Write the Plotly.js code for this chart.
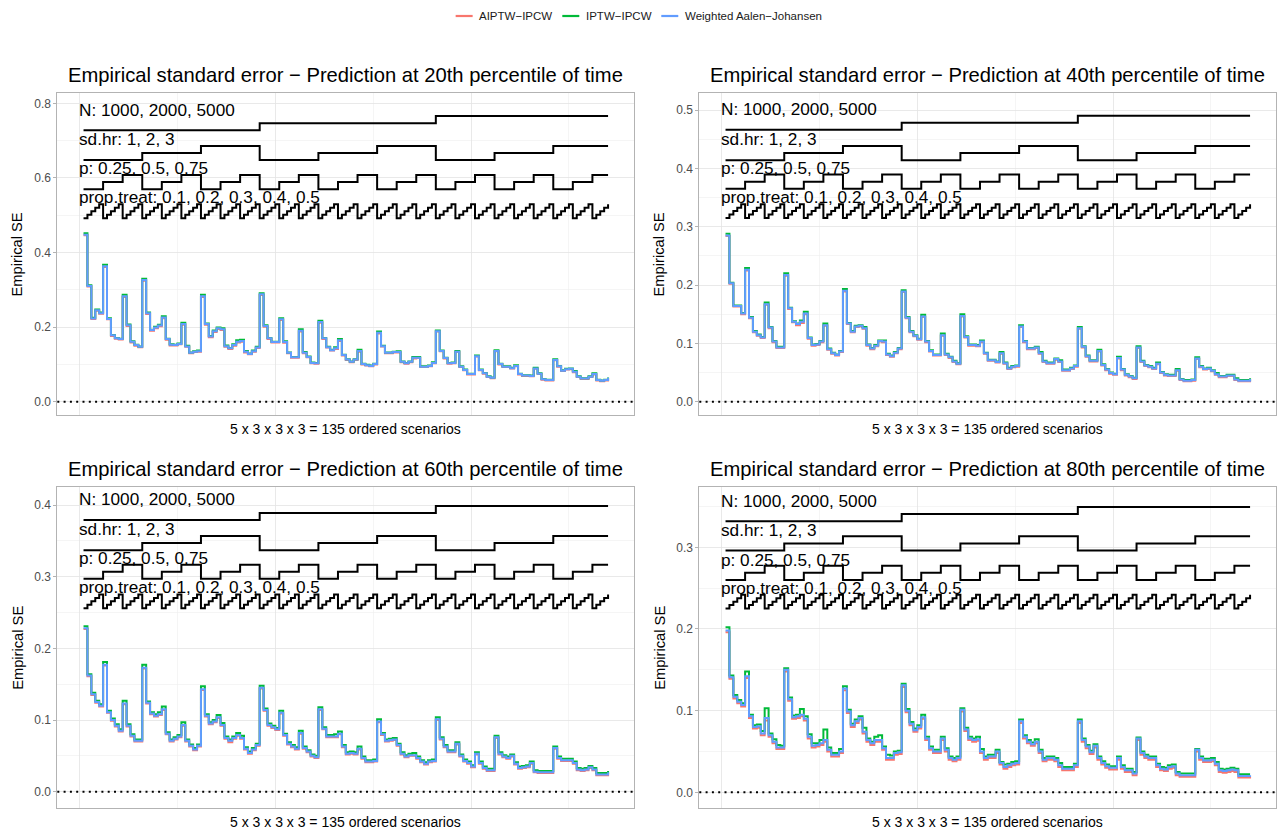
<!DOCTYPE html>
<html><head><meta charset="utf-8">
<script src="https://cdn.plot.ly/plotly-3.0.1.min.js"></script>
<style>html,body{margin:0;padding:0;background:#fff;}#chart{width:1277px;height:831px;}</style>
</head><body><div id="chart"></div>
<script>
// ---- design factors (nested loop) ----
const N_levels = [1000, 2000, 5000];
const sdhr_levels = [1, 2, 3];
const p_levels = [0.25, 0.5, 0.75];
const prop_levels = [0.1, 0.2, 0.3, 0.4, 0.5];
const percentiles = [20, 40, 60, 80];
const methods = ['AIPTW\u2212IPCW', 'IPTW\u2212IPCW', 'Weighted Aalen\u2212Johansen'];

// ---- empirical SE, 20th percentile ----
const p20_aiptw = [0.446,0.309,0.222,0.244,0.236, 0.361,0.221,0.176,0.169,0.167, 0.281,0.203,0.159,0.150,0.146, 0.324,0.235,0.190,0.197,0.202, 0.224,0.166,0.151,0.151,0.154, 0.206,0.147,0.130,0.133,0.134, 0.281,0.206,0.173,0.187,0.195, 0.192,0.147,0.141,0.150,0.159, 0.161,0.132,0.127,0.134,0.144,
 0.286,0.201,0.168,0.159,0.159, 0.219,0.158,0.130,0.118,0.118, 0.188,0.130,0.119,0.103,0.102, 0.212,0.168,0.145,0.137,0.141, 0.163,0.124,0.112,0.106,0.112, 0.134,0.100,0.097,0.095,0.100, 0.183,0.148,0.130,0.130,0.132, 0.132,0.106,0.102,0.106,0.116, 0.117,0.093,0.093,0.095,0.103,
 0.188,0.135,0.116,0.102,0.103, 0.133,0.093,0.084,0.073,0.073, 0.121,0.084,0.075,0.066,0.063, 0.135,0.100,0.093,0.093,0.089, 0.095,0.073,0.069,0.069,0.068, 0.088,0.074,0.059,0.057,0.057, 0.111,0.094,0.082,0.086,0.087, 0.079,0.066,0.061,0.061,0.066, 0.073,0.057,0.055,0.057,0.063];
const p20_iptw = [0.452,0.312,0.225,0.247,0.239, 0.367,0.224,0.179,0.171,0.169, 0.287,0.207,0.162,0.153,0.148, 0.330,0.239,0.193,0.201,0.206, 0.229,0.169,0.154,0.153,0.156, 0.212,0.150,0.132,0.135,0.137, 0.287,0.210,0.176,0.191,0.199, 0.197,0.151,0.144,0.154,0.165, 0.166,0.136,0.129,0.137,0.147,
 0.291,0.205,0.171,0.161,0.161, 0.224,0.162,0.132,0.120,0.120, 0.194,0.133,0.121,0.105,0.104, 0.217,0.171,0.147,0.139,0.146, 0.168,0.126,0.114,0.108,0.114, 0.139,0.102,0.099,0.097,0.102, 0.188,0.150,0.132,0.132,0.134, 0.135,0.108,0.104,0.108,0.120, 0.120,0.095,0.095,0.097,0.106,
 0.191,0.137,0.118,0.104,0.105, 0.136,0.095,0.086,0.075,0.075, 0.124,0.086,0.077,0.068,0.065, 0.138,0.102,0.095,0.095,0.091, 0.098,0.075,0.071,0.071,0.070, 0.091,0.076,0.061,0.059,0.059, 0.114,0.096,0.084,0.088,0.089, 0.082,0.068,0.063,0.063,0.068, 0.076,0.059,0.057,0.059,0.065];
const p20_waj = [0.448,0.310,0.223,0.245,0.237, 0.363,0.222,0.178,0.170,0.168, 0.283,0.205,0.161,0.152,0.147, 0.326,0.237,0.192,0.199,0.204, 0.226,0.168,0.153,0.152,0.155, 0.208,0.148,0.131,0.134,0.135, 0.283,0.208,0.175,0.189,0.197, 0.194,0.149,0.143,0.152,0.161, 0.163,0.134,0.128,0.135,0.145,
 0.288,0.203,0.170,0.160,0.160, 0.221,0.160,0.131,0.119,0.119, 0.190,0.131,0.120,0.104,0.103, 0.214,0.170,0.146,0.138,0.143, 0.165,0.125,0.113,0.107,0.113, 0.136,0.101,0.098,0.096,0.101, 0.185,0.149,0.131,0.131,0.133, 0.133,0.107,0.103,0.107,0.118, 0.118,0.094,0.094,0.096,0.104,
 0.189,0.136,0.117,0.103,0.104, 0.134,0.094,0.085,0.074,0.074, 0.122,0.085,0.076,0.067,0.064, 0.136,0.101,0.094,0.094,0.090, 0.096,0.074,0.070,0.070,0.069, 0.089,0.075,0.060,0.058,0.058, 0.112,0.095,0.083,0.087,0.088, 0.080,0.067,0.062,0.062,0.067, 0.074,0.058,0.056,0.058,0.064];

// ---- 40th percentile ----
const p40_aiptw = [0.284,0.202,0.163,0.163,0.150, 0.225,0.143,0.119,0.113,0.109, 0.166,0.126,0.102,0.092,0.092, 0.216,0.159,0.136,0.131,0.135, 0.150,0.108,0.096,0.097,0.102, 0.130,0.089,0.082,0.079,0.085, 0.189,0.133,0.119,0.128,0.129, 0.125,0.096,0.090,0.095,0.103, 0.102,0.080,0.077,0.083,0.090,
 0.188,0.143,0.119,0.112,0.106, 0.145,0.102,0.086,0.079,0.079, 0.113,0.080,0.075,0.068,0.064, 0.146,0.110,0.096,0.096,0.095, 0.102,0.082,0.070,0.070,0.067, 0.082,0.065,0.056,0.059,0.060, 0.128,0.102,0.090,0.090,0.092, 0.082,0.068,0.065,0.065,0.072, 0.068,0.053,0.053,0.056,0.060,
 0.125,0.093,0.077,0.069,0.069, 0.086,0.062,0.054,0.048,0.046, 0.074,0.054,0.045,0.042,0.039, 0.092,0.068,0.061,0.059,0.056, 0.064,0.049,0.045,0.044,0.044, 0.053,0.037,0.035,0.035,0.036, 0.073,0.059,0.055,0.056,0.052, 0.046,0.042,0.042,0.044,0.044, 0.037,0.035,0.035,0.035,0.038];
const p40_iptw = [0.288,0.204,0.165,0.165,0.152, 0.229,0.145,0.121,0.115,0.111, 0.170,0.128,0.104,0.094,0.094, 0.220,0.161,0.138,0.134,0.139, 0.154,0.110,0.098,0.099,0.104, 0.134,0.091,0.084,0.081,0.087, 0.193,0.135,0.121,0.130,0.131, 0.128,0.098,0.092,0.097,0.105, 0.105,0.082,0.079,0.085,0.092,
 0.191,0.145,0.121,0.114,0.108, 0.149,0.104,0.088,0.081,0.081, 0.117,0.082,0.077,0.070,0.066, 0.150,0.112,0.098,0.098,0.097, 0.105,0.084,0.072,0.072,0.069, 0.085,0.067,0.058,0.061,0.062, 0.131,0.104,0.092,0.092,0.094, 0.085,0.070,0.067,0.067,0.074, 0.071,0.055,0.055,0.058,0.062,
 0.128,0.095,0.079,0.071,0.071, 0.089,0.064,0.056,0.050,0.048, 0.077,0.056,0.047,0.044,0.041, 0.095,0.070,0.063,0.061,0.058, 0.067,0.051,0.047,0.046,0.046, 0.056,0.039,0.037,0.037,0.038, 0.076,0.061,0.057,0.058,0.054, 0.049,0.044,0.044,0.046,0.046, 0.040,0.037,0.037,0.037,0.040];
const p40_waj = [0.285,0.203,0.164,0.164,0.151, 0.226,0.144,0.120,0.114,0.110, 0.167,0.127,0.103,0.093,0.093, 0.217,0.160,0.137,0.133,0.137, 0.151,0.109,0.097,0.098,0.103, 0.131,0.090,0.083,0.080,0.086, 0.190,0.134,0.120,0.129,0.130, 0.126,0.097,0.091,0.096,0.104, 0.103,0.081,0.078,0.084,0.091,
 0.189,0.144,0.120,0.113,0.107, 0.146,0.103,0.087,0.080,0.080, 0.114,0.081,0.076,0.069,0.065, 0.147,0.111,0.097,0.097,0.096, 0.103,0.083,0.071,0.071,0.068, 0.083,0.066,0.057,0.060,0.061, 0.129,0.103,0.091,0.091,0.093, 0.083,0.069,0.066,0.066,0.073, 0.069,0.054,0.054,0.057,0.061,
 0.126,0.094,0.078,0.070,0.070, 0.087,0.063,0.055,0.049,0.047, 0.075,0.055,0.046,0.043,0.040, 0.093,0.069,0.062,0.060,0.057, 0.065,0.050,0.046,0.045,0.045, 0.054,0.038,0.036,0.036,0.037, 0.074,0.060,0.056,0.057,0.053, 0.047,0.043,0.043,0.045,0.045, 0.038,0.036,0.036,0.036,0.039];

// ---- 60th percentile ----
const p60_aiptw = [0.227,0.161,0.135,0.124,0.119, 0.176,0.110,0.099,0.091,0.084, 0.122,0.091,0.077,0.070,0.070, 0.172,0.123,0.108,0.105,0.107, 0.114,0.080,0.070,0.073,0.076, 0.092,0.070,0.063,0.058,0.063, 0.142,0.105,0.094,0.097,0.103, 0.092,0.074,0.069,0.074,0.078, 0.074,0.059,0.053,0.058,0.064,
 0.144,0.113,0.092,0.089,0.086, 0.109,0.078,0.066,0.062,0.059, 0.081,0.060,0.055,0.049,0.047, 0.114,0.087,0.076,0.076,0.076, 0.080,0.062,0.052,0.053,0.052, 0.059,0.046,0.041,0.041,0.042, 0.097,0.079,0.070,0.071,0.072, 0.064,0.052,0.048,0.050,0.050, 0.046,0.041,0.038,0.041,0.042,
 0.100,0.073,0.062,0.055,0.055, 0.066,0.049,0.042,0.039,0.034, 0.052,0.039,0.032,0.029,0.029, 0.075,0.052,0.048,0.046,0.049, 0.038,0.032,0.033,0.034,0.039, 0.027,0.026,0.026,0.026,0.026, 0.060,0.046,0.043,0.043,0.043, 0.039,0.030,0.029,0.030,0.033, 0.030,0.023,0.023,0.023,0.026];
const p60_iptw = [0.231,0.164,0.138,0.127,0.122, 0.181,0.113,0.102,0.094,0.087, 0.127,0.094,0.080,0.073,0.073, 0.177,0.126,0.111,0.108,0.111, 0.119,0.083,0.073,0.076,0.079, 0.097,0.073,0.066,0.061,0.066, 0.147,0.108,0.097,0.100,0.107, 0.096,0.077,0.073,0.077,0.082, 0.078,0.062,0.056,0.061,0.067,
 0.148,0.116,0.095,0.092,0.089, 0.113,0.081,0.069,0.065,0.062, 0.085,0.063,0.058,0.052,0.050, 0.118,0.090,0.079,0.079,0.080, 0.084,0.065,0.055,0.056,0.055, 0.063,0.049,0.044,0.044,0.045, 0.101,0.082,0.073,0.074,0.075, 0.067,0.055,0.051,0.053,0.054, 0.049,0.044,0.041,0.044,0.045,
 0.104,0.076,0.065,0.058,0.058, 0.069,0.052,0.045,0.042,0.037, 0.055,0.042,0.035,0.032,0.032, 0.078,0.055,0.051,0.049,0.052, 0.041,0.035,0.036,0.037,0.042, 0.030,0.029,0.029,0.029,0.029, 0.063,0.049,0.046,0.046,0.046, 0.042,0.033,0.032,0.033,0.036, 0.033,0.026,0.026,0.026,0.029];
const p60_waj = [0.228,0.162,0.136,0.125,0.120, 0.177,0.111,0.100,0.092,0.085, 0.123,0.092,0.078,0.071,0.071, 0.173,0.124,0.109,0.106,0.108, 0.115,0.081,0.071,0.074,0.077, 0.093,0.071,0.064,0.059,0.064, 0.143,0.106,0.095,0.098,0.104, 0.093,0.075,0.071,0.075,0.079, 0.075,0.060,0.054,0.059,0.065,
 0.145,0.114,0.093,0.090,0.087, 0.110,0.079,0.067,0.063,0.060, 0.082,0.061,0.056,0.050,0.048, 0.115,0.088,0.077,0.077,0.077, 0.081,0.063,0.053,0.054,0.053, 0.060,0.047,0.042,0.042,0.043, 0.098,0.080,0.071,0.072,0.073, 0.065,0.053,0.049,0.051,0.051, 0.047,0.042,0.039,0.042,0.043,
 0.101,0.074,0.063,0.056,0.056, 0.067,0.050,0.043,0.040,0.035, 0.053,0.040,0.033,0.030,0.030, 0.076,0.053,0.049,0.047,0.050, 0.039,0.033,0.034,0.035,0.040, 0.028,0.027,0.027,0.027,0.027, 0.061,0.047,0.044,0.044,0.044, 0.040,0.031,0.030,0.031,0.034, 0.031,0.024,0.024,0.024,0.027];

// ---- 80th percentile ----
const p80_aiptw = [0.196,0.139,0.115,0.109,0.105, 0.140,0.091,0.078,0.079,0.070, 0.088,0.068,0.060,0.053,0.053, 0.148,0.112,0.090,0.091,0.093, 0.088,0.066,0.055,0.056,0.058, 0.062,0.050,0.044,0.044,0.048, 0.125,0.097,0.080,0.085,0.089, 0.072,0.062,0.058,0.062,0.062, 0.052,0.040,0.040,0.046,0.047,
 0.129,0.098,0.082,0.074,0.078, 0.090,0.064,0.052,0.048,0.048, 0.064,0.050,0.040,0.038,0.040, 0.099,0.075,0.064,0.062,0.063, 0.048,0.040,0.042,0.042,0.048, 0.034,0.029,0.031,0.033,0.034, 0.085,0.066,0.060,0.057,0.060, 0.048,0.038,0.040,0.040,0.038, 0.031,0.027,0.027,0.027,0.031,
 0.085,0.062,0.054,0.047,0.055, 0.040,0.034,0.030,0.028,0.028, 0.040,0.029,0.025,0.025,0.021, 0.064,0.046,0.042,0.040,0.040, 0.031,0.027,0.026,0.029,0.030, 0.021,0.019,0.019,0.019,0.019, 0.050,0.040,0.037,0.037,0.038, 0.033,0.025,0.024,0.025,0.026, 0.025,0.018,0.018,0.018,0.019];
const p80_iptw = [0.202,0.143,0.119,0.113,0.109, 0.148,0.095,0.082,0.083,0.075, 0.103,0.072,0.065,0.058,0.057, 0.152,0.116,0.094,0.095,0.102, 0.093,0.071,0.060,0.060,0.064, 0.077,0.055,0.048,0.048,0.053, 0.130,0.101,0.084,0.089,0.093, 0.079,0.066,0.062,0.068,0.070, 0.056,0.046,0.045,0.050,0.051,
 0.133,0.102,0.086,0.078,0.082, 0.095,0.068,0.056,0.052,0.052, 0.068,0.054,0.044,0.042,0.044, 0.103,0.079,0.068,0.066,0.068, 0.053,0.044,0.046,0.046,0.052, 0.037,0.034,0.035,0.037,0.038, 0.089,0.070,0.064,0.061,0.065, 0.052,0.042,0.044,0.044,0.042, 0.036,0.031,0.031,0.031,0.035,
 0.089,0.066,0.058,0.051,0.059, 0.044,0.038,0.034,0.032,0.032, 0.044,0.033,0.029,0.029,0.025, 0.067,0.050,0.046,0.044,0.044, 0.035,0.031,0.030,0.033,0.034, 0.025,0.023,0.023,0.023,0.023, 0.053,0.044,0.041,0.041,0.042, 0.037,0.029,0.028,0.029,0.030, 0.029,0.022,0.022,0.022,0.022];
const p80_waj = [0.198,0.141,0.117,0.111,0.107, 0.142,0.093,0.080,0.081,0.072, 0.091,0.070,0.062,0.055,0.055, 0.150,0.114,0.092,0.093,0.095, 0.090,0.068,0.057,0.058,0.060, 0.064,0.052,0.046,0.046,0.050, 0.127,0.099,0.082,0.087,0.091, 0.074,0.064,0.060,0.064,0.064, 0.054,0.042,0.042,0.048,0.049,
 0.131,0.100,0.084,0.076,0.080, 0.092,0.066,0.054,0.050,0.050, 0.066,0.052,0.042,0.040,0.042, 0.101,0.077,0.066,0.064,0.065, 0.050,0.042,0.044,0.044,0.050, 0.036,0.031,0.033,0.035,0.036, 0.087,0.068,0.062,0.059,0.062, 0.050,0.040,0.042,0.042,0.040, 0.033,0.029,0.029,0.029,0.033,
 0.087,0.064,0.056,0.049,0.057, 0.042,0.036,0.032,0.030,0.030, 0.042,0.031,0.027,0.027,0.023, 0.066,0.048,0.044,0.042,0.042, 0.033,0.029,0.028,0.031,0.032, 0.023,0.021,0.021,0.021,0.021, 0.052,0.042,0.039,0.039,0.040, 0.035,0.027,0.026,0.027,0.028, 0.027,0.020,0.020,0.020,0.021];

// ---- layout / style settings (not data) ----
const COLORS = ['#F8766D', '#00BA38', '#619CFF'];
const FONT = 'Liberation Sans, Arial, Helvetica, sans-serif';
const W = 1277, H = 831;
const BOX = [[57.3, 634.3, 93.3, 415.0], [699.3, 1276.3, 93.3, 415.0], [57.3, 634.3, 486.7, 808.4], [699.3, 1276.3, 486.7, 808.4]];
const YRANGE = [[-0.0357, 0.827], [-0.0228, 0.5287], [-0.0233, 0.4256], [-0.0197, 0.3742]];
const YDTICK = [0.2, 0.1, 0.1, 0.1];
const LOOP_BASE = [[0.728, 0.648, 0.570, 0.492], [0.466, 0.414, 0.365, 0.315], [0.379, 0.337, 0.297, 0.256], [0.332, 0.296, 0.260, 0.225]];
const LOOP_STEP = [[0.019, 0.019, 0.019, 0.0093], [0.0122, 0.0122, 0.0122, 0.0059], [0.0099, 0.0099, 0.0099, 0.0048], [0.0087, 0.0087, 0.0087, 0.0042]];
const LOOP_LABEL = [[0.783, 0.704, 0.626, 0.548], [0.501, 0.451, 0.401, 0.351], [0.408, 0.367, 0.326, 0.285], [0.357, 0.321, 0.285, 0.250]];
const LEG = {cx: 638.5, cy: 16, key: 17, keyGap: 5.5, itemGap: 11, size: 11.5};

const series = [[p20_aiptw, p20_iptw, p20_waj], [p40_aiptw, p40_iptw, p40_waj], [p60_aiptw, p60_iptw, p60_waj], [p80_aiptw, p80_iptw, p80_waj]];

const scen = [];
N_levels.forEach((n, a) => sdhr_levels.forEach((s, b) => p_levels.forEach((pp, c) => prop_levels.forEach((q, d) => scen.push([a, b, c, d])))));
const xs = scen.map((_, i) => i + 1);
const loopLabels = ['N: ' + N_levels.join(', '), 'sd.hr: ' + sdhr_levels.join(', '), 'p: ' + p_levels.join(', '), 'prop.treat: ' + prop_levels.join(', ')];
const nOrdered = `${prop_levels.length} x ${p_levels.length} x ${sdhr_levels.length} x ${N_levels.length} = ${scen.length} ordered scenarios`;

const traces = [], annotations = [], shapes = [];
const layout = {
  width: W, height: H, margin: {l: 0, r: 0, t: 0, b: 0},
  paper_bgcolor: '#ffffff', plot_bgcolor: '#ffffff',
  font: {family: FONT, color: '#000000'},
  showlegend: false
};
const px2x = px => px / W, px2y = py => 1 - py / H;

for (let k = 0; k < 4; k++) {
  const sfx = k === 0 ? '' : String(k + 1);
  const xa = 'x' + sfx, ya = 'y' + sfx;
  const [L, R, T, B] = BOX[k];
  layout['xaxis' + sfx] = {
    domain: [px2x(L), px2x(R)], anchor: ya, range: [-5.7, 141.7],
    showticklabels: false, ticks: '', tick0: 0, dtick: 50,
    showgrid: true, gridcolor: '#e4e4e4', gridwidth: 0.8,
    minor: {tick0: 0, dtick: 25, showgrid: true, gridcolor: '#efefef', gridwidth: 0.6, ticks: ''},
    showline: true, mirror: true, linecolor: '#b3b3b3', linewidth: 1, zeroline: false, fixedrange: true
  };
  layout['yaxis' + sfx] = {
    domain: [px2y(B), px2y(T)], anchor: xa, range: YRANGE[k],
    tick0: 0, dtick: YDTICK[k], tickformat: '.1f', ticks: 'outside', ticklen: 3, tickcolor: '#b3b3b3', tickwidth: 1,
    tickfont: {size: 12, color: '#4d4d4d', family: FONT},
    showgrid: true, gridcolor: '#e4e4e4', gridwidth: 0.8,
    minor: {tick0: 0, dtick: YDTICK[k] / 2, showgrid: true, gridcolor: '#efefef', gridwidth: 0.6, ticks: ''},
    showline: true, mirror: true, linecolor: '#b3b3b3', linewidth: 1, zeroline: false, fixedrange: true
  };

  for (let j = 0; j < 4; j++) {
    traces.push({
      type: 'scatter', mode: 'lines', xaxis: xa, yaxis: ya, x: xs,
      y: scen.map(s => LOOP_BASE[k][j] + s[j] * LOOP_STEP[k][j]),
      line: {shape: 'hv', color: '#000000', width: 2}, showlegend: false, hoverinfo: 'skip'
    });
    annotations.push({xref: xa, yref: ya, x: -0.6, y: LOOP_LABEL[k][j], text: loopLabels[j], showarrow: false,
      xanchor: 'left', yanchor: 'middle', font: {size: 17.2, color: '#000000', family: FONT}});
  }
  for (let m = 0; m < 3; m++) {
    traces.push({
      type: 'scatter', mode: 'lines', xaxis: xa, yaxis: ya, x: xs, y: series[k][m],
      name: methods[m], legendgroup: methods[m], showlegend: false,
      line: {shape: 'hv', color: COLORS[m], width: 2}
    });
  }
  shapes.push({type: 'line', xref: xa + ' domain', yref: ya, x0: 0, x1: 1, y0: 0, y1: 0,
    line: {color: '#000000', width: 2, dash: '2px,4.3px'}});

  const cx = px2x((L + R) / 2);
  annotations.push({xref: 'paper', yref: 'paper', x: cx, y: px2y(T - 18), xanchor: 'center', yanchor: 'middle',
    text: `Empirical standard error \u2212 Prediction at ${percentiles[k]}th percentile of time`, showarrow: false,
    font: {size: 20.2, color: '#000000', family: FONT}});
  annotations.push({xref: 'paper', yref: 'paper', x: cx, y: px2y(B + 24), xanchor: 'center', yanchor: 'bottom',
    text: nOrdered, showarrow: false, font: {size: 14, color: '#000000', family: FONT}});
  annotations.push({xref: 'paper', yref: 'paper', x: px2x(L - 40), y: px2y((T + B) / 2), xanchor: 'center', yanchor: 'middle',
    text: 'Empirical SE', textangle: -90, showarrow: false, font: {size: 14.7, color: '#000000', family: FONT}});
}

// legend (ggplot-style short keys), centred at the top
const ctx = document.createElement('canvas').getContext('2d');
ctx.font = LEG.size + 'px "Liberation Sans", Arial, sans-serif';
const tw = methods.map(t => ctx.measureText(t).width);
const total = tw.reduce((a, w) => a + LEG.key + LEG.keyGap + w, 0) + LEG.itemGap * (methods.length - 1);
let lx = LEG.cx - total / 2;
methods.forEach((t, m) => {
  shapes.push({type: 'line', xref: 'paper', yref: 'paper', x0: px2x(lx), x1: px2x(lx + LEG.key), y0: px2y(LEG.cy), y1: px2y(LEG.cy),
    line: {color: COLORS[m], width: 2.2}});
  annotations.push({xref: 'paper', yref: 'paper', x: px2x(lx + LEG.key + LEG.keyGap - 1), y: px2y(LEG.cy), xanchor: 'left', yanchor: 'middle',
    text: t, showarrow: false, font: {size: LEG.size, color: '#1a1a1a', family: FONT}});
  lx += LEG.key + LEG.keyGap + tw[m] + LEG.itemGap;
});

layout.annotations = annotations;
layout.shapes = shapes;
Plotly.newPlot('chart', traces, layout, {displayModeBar: false, staticPlot: true});
</script></body></html>
